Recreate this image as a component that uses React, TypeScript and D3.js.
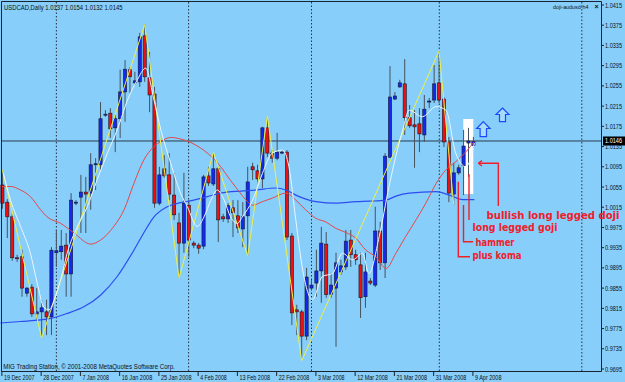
import React from "react";
import * as d3 from "d3";

const W = 625;
const H = 382;

// OHLC per daily bar (bar 0 = 19 Dec 2007, bar 96 = 9 Apr 2008)
const opens = [1.0059,1.0025,0.9996,0.9915,0.9917,0.9845,0.9857,0.9804,0.9808,0.9808,0.9798,0.9925,0.9927,0.9940,0.9883,1.0023,1.0035,1.0045,1.0043,1.0099,1.0099,1.0198,1.0201,1.0172,1.0190,1.0243,1.0287,1.0261,1.0263,1.0354,1.0271,1.0239,1.0023,1.0091,1.0079,1.0039,0.9984,0.9944,1.0019,0.9944,0.9940,0.9938,1.0077,1.0061,1.0091,0.9996,0.9992,1.0014,0.9998,0.9972,0.9998,1.0095,1.0087,1.0071,1.0172,1.0122,1.0112,1.0123,1.0124,0.9958,0.9812,0.9808,0.9760,0.9855,0.9865,0.9889,0.9942,0.9843,0.9855,0.9887,0.9897,0.9950,0.9921,0.9901,0.9838,0.9869,0.9861,0.9968,0.9905,1.0114,1.0229,1.0253,1.0259,1.0192,1.0178,1.0180,1.0158,1.0223,1.0227,1.0261,1.0229,1.0144,1.0041,1.0083,1.0097,1.0142,1.0137];
const highs = [1.0089,1.0031,1.0002,0.9921,0.9931,0.9857,0.9863,0.9855,0.9832,0.9832,0.9936,0.9970,0.9970,0.9964,1.0043,1.0029,1.0079,1.0075,1.0122,1.0112,1.0223,1.0207,1.0211,1.0198,1.0287,1.0306,1.0292,1.0283,1.0360,1.0376,1.0322,1.0253,1.0095,1.0118,1.0122,1.0083,1.0004,1.0083,1.0029,0.9948,0.9944,1.0079,1.0095,1.0124,1.0095,1.0002,1.0023,1.0029,1.0029,1.0025,1.0095,1.0103,1.0099,1.0174,1.0196,1.0128,1.0162,1.0128,1.0128,0.9964,0.9822,0.9812,0.9895,0.9871,0.9931,0.9976,0.9966,0.9885,0.9925,0.9911,0.9970,0.9970,0.9931,0.9925,0.9925,0.9875,1.0016,0.9986,1.0122,1.0294,1.0243,1.0267,1.0308,1.0217,1.0207,1.0211,1.0237,1.0231,1.0296,1.0324,1.0233,1.0154,1.0103,1.0099,1.0168,1.0172,1.0154];
const lows = [1.0012,0.9954,0.9909,0.9907,0.9838,0.9838,0.9798,0.9792,0.9756,0.9762,0.9762,0.9897,0.9911,0.9838,0.9838,1.0019,0.9964,0.9964,1.0010,1.0049,1.0089,1.0194,1.0152,1.0124,1.0152,1.0184,1.0241,1.0257,1.0253,1.0263,1.0203,1.0014,1.0019,1.0073,1.0029,0.9990,0.9875,0.9925,0.9917,0.9934,0.9923,0.9932,1.0057,1.0057,0.9946,0.9986,0.9984,0.9956,0.9964,0.9936,0.9919,1.0069,1.0049,1.0053,1.0114,1.0103,1.0108,1.0120,0.9950,0.9782,0.9762,0.9711,0.9752,0.9851,0.9838,0.9826,0.9836,0.9836,0.9739,0.9881,0.9891,0.9897,0.9901,0.9796,0.9816,0.9861,0.9857,0.9891,0.9875,1.0112,1.0227,1.0251,1.0158,1.0172,1.0093,1.0124,1.0144,1.0211,1.0221,1.0221,1.0134,1.0025,1.0019,1.0079,1.0039,1.0075,1.0132];
const closes = [1.0023,0.9996,0.9915,0.9913,0.9855,0.9855,0.9804,0.9808,0.9816,0.9798,0.9930,0.9929,0.9938,0.9883,1.0029,1.0025,1.0045,1.0041,1.0099,1.0101,1.0190,1.0199,1.0170,1.0190,1.0243,1.0288,1.0273,1.0265,1.0352,1.0273,1.0237,1.0023,1.0079,1.0077,1.0041,1.0000,0.9944,1.0023,0.9950,0.9940,0.9934,1.0075,1.0063,1.0091,0.9990,0.9992,1.0018,1.0004,0.9974,0.9996,1.0065,1.0089,1.0071,1.0172,1.0122,1.0112,1.0124,1.0124,0.9956,0.9806,0.9808,0.9760,0.9877,0.9861,0.9889,0.9944,0.9842,0.9861,0.9905,0.9899,0.9948,0.9921,0.9911,0.9836,0.9887,0.9865,0.9968,0.9905,1.0116,1.0233,1.0235,1.0261,1.0192,1.0176,1.0174,1.0160,1.0209,1.0225,1.0259,1.0227,1.0144,1.0043,1.0083,1.0093,1.0136,1.0146,1.0145];

// Moving averages: [bar index, price]
const redMA: [number, number][] = [[-0.4,1.0056],[1.7,1.0056],[3.7,1.0049],[5.7,1.0036],[7.8,1.0010],[9.1,0.9996],[11.9,0.9983],[14.6,0.9964],[18,0.9942],[20,0.9950],[22.7,0.9977],[24.8,1.0010],[26.8,1.0062],[28.8,1.0108],[30.9,1.0135],[32.3,1.0145],[34.3,1.0153],[36.3,1.0150],[38.4,1.0143],[40.4,1.0132],[42.5,1.0116],[44.5,1.0095],[46.5,1.0068],[48,1.0049],[49.5,1.0031],[51,1.0019],[53,1.0026],[55,1.0033],[57.8,1.0043],[59.8,1.0029],[61.8,1.0010],[63.9,0.9993],[65.9,0.9986],[68,0.9973],[70,0.9965],[72,0.9954],[74.1,0.9930],[76.1,0.9917],[78.2,0.9894],[80.2,0.9924],[82.2,0.9957],[84.3,0.9990],[86.3,1.0023],[88.4,1.0062],[90.4,1.0089],[92.4,1.0105],[94.5,1.0125],[96.2,1.0145]];
const blueMA: [number, number][] = [[-0.4,0.9786],[3.7,0.9789],[7.8,0.9792],[9.8,0.9795],[13.2,0.9805],[16.6,0.9818],[20,0.9841],[23.4,0.9878],[26.8,0.9930],[28.8,0.9964],[30.9,0.9996],[33.6,1.0016],[36.3,1.0024],[39,1.0029],[41.8,1.0036],[44.5,1.0043],[48.6,1.0047],[51.6,1.0049],[55.7,1.0053],[57.8,1.0049],[59.8,1.0039],[63.9,1.0026],[68,1.0023],[72,1.0026],[74.8,1.0027],[78.2,1.0029],[80.2,1.0037],[82.9,1.0043],[88.4,1.0046],[91.1,1.0039],[93.8,1.0030],[96.2,1.0030]];
const whiteMA: [number, number][] = [[0.2,1.0082],[1.65,1.0029],[3.7,0.9977],[5.7,0.9924],[7.1,0.9865],[8.4,0.9818],[9.5,0.9812],[10.8,0.9838],[12.2,0.9884],[13.2,0.9924],[15.3,0.9977],[17.3,1.0016],[19.3,1.0069],[21.4,1.0122],[23.4,1.0168],[25.5,1.0227],[27.5,1.0267],[29.2,1.0290],[30.9,1.0227],[32.3,1.0168],[34.3,1.0102],[36.3,1.0043],[37.7,1.0016],[39.7,0.9977],[41.1,0.9996],[42.5,1.0029],[43.8,1.0049],[45.2,1.0029],[46.5,0.9996],[47.9,0.9983],[48.9,0.9996],[51.0,1.0029],[53.0,1.0082],[55.0,1.0122],[57.1,1.0128],[58.4,1.0095],[59.8,0.9990],[61.2,0.9891],[63.2,0.9832],[65.2,0.9878],[67.3,0.9884],[69.3,0.9924],[71.4,0.9911],[73.4,0.9924],[74.7,0.9884],[76.8,0.9957],[78.8,1.0056],[81.6,1.0168],[82.9,1.0207],[85.6,1.0194],[88.4,1.0214],[90.4,1.0207],[92.4,1.0122],[94.5,1.0095],[96.2,1.0142]];

// ZigZag pivots: [bar index, 1 = high / 0 = low]
const zigzag: [number, number][] = [[0,1],[8,0],[29,1],[36,0],[43,1],[50,0],[54,1],[61,0],[89,1],[92,0]];

// Axis labels
const yTicks = [1.0415,1.0375,1.0335,1.0295,1.0255,1.0215,1.0175,1.0135,1.0095,1.0055,1.0015,0.9975,0.9935,0.9895,0.9855,0.9815,0.9775,0.9735,0.9695];
const xTickBars = [0,8,16,24,32,40,48,56,64,72,80,88,96];
const xTickLabels = ["19 Dec 2007","28 Dec 2007","7 Jan 2008","16 Jan 2008","25 Jan 2008","4 Feb 2008","13 Feb 2008","22 Feb 2008","3 Mar 2008","12 Mar 2008","21 Mar 2008","31 Mar 2008","9 Apr 2008"];
const separatorBars = [11, 37.95, 63, 89.05, 118.1];
const currentPrice = 1.0146;

const x = d3.scaleLinear().domain([0, 96]).range([2.4, 473.4]);
const y = d3.scaleLinear().domain([0.9695, 1.0415]).range([369, 5]);

const BG = "#87CEFA";
const AX = "#1a2330";

function T(props: any) {
  const { x: tx, y: ty, s, len, size = 7, fill = "#111", family = "'Liberation Sans', Arial, sans-serif", weight = 400, anchor = "start" } = props;
  return (
    <text x={tx} y={ty} fontSize={size} fill={fill} fontFamily={family} fontWeight={weight}
      textAnchor={anchor} textLength={len} lengthAdjust="spacingAndGlyphs">{s}</text>
  );
}

export default function App() {
  const line = d3.line<[number, number]>().x(d => x(d[0])).y(d => y(d[1])).curve(d3.curveMonotoneX);
  const zz = d3.line<[number, number]>().x(d => x(d[0])).y(d => y(d[1] ? highs[d[0]] : lows[d[0]]));
  const xLabelLens = xTickLabels.map(s => s.length >= 11 ? 30.6 : 26.6);
  const annoFont = "'DejaVu Sans', Verdana, sans-serif";
  const red = "#f0202a";
  return (
    <svg width={W} height={H} style={{ position: "fixed", left: 0, top: 0, display: "block" }}>
      <rect x={0} y={0} width={W} height={H} fill={BG} />
      {/* period separators */}
      {separatorBars.map((b, k) => (
        <line key={k} x1={x(b)} x2={x(b)} y1={2} y2={371.5} stroke="#2a2f3a" strokeWidth={1} strokeDasharray="1.5,2" />
      ))}
      {/* highlight box */}
      <rect x={463.3} y={119} width={10} height={75} fill="#ffffff" />
      {/* current price line */}
      <line x1={1.5} x2={601.5} y1={y(currentPrice)} y2={y(currentPrice)} stroke="#2a3a48" strokeWidth={1} />
      {/* candles */}
      {opens.map((o, i) => {
        const c = closes[i];
        const up = c >= o;
        const yt = y(Math.max(o, c));
        const yb = y(Math.min(o, c));
        return (
          <g key={i}>
            <line x1={x(i)} x2={x(i)} y1={y(highs[i])} y2={y(lows[i])} stroke="#46525e" strokeWidth={1} />
            <rect x={x(i) - 1.6} y={yt} width={3.2} height={Math.max(1, yb - yt)}
              fill={up ? "#1428f0" : "#ee1010"} stroke="#141a2a" strokeWidth={0.6} />
          </g>
        );
      })}
      {/* indicators */}
      <path d={line(blueMA) || ""} fill="none" stroke="#2c4ef0" strokeWidth={1.2} />
      <path d={line(redMA) || ""} fill="none" stroke="#e64848" strokeWidth={1} />
      <path d={zz(zigzag) || ""} fill="none" stroke="#eef04a" strokeWidth={1} />
      <path d={line(whiteMA) || ""} fill="none" stroke="#eef6ff" strokeWidth={1} />
      {/* frame */}
      <line x1={1.5} x2={1.5} y1={1.5} y2={371.5} stroke={AX} />
      <line x1={601.5} x2={601.5} y1={1.5} y2={371.5} stroke={AX} />
      <line x1={1.5} x2={601.5} y1={371.5} y2={371.5} stroke={AX} />
      <line x1={1.5} x2={601.5} y1={1.5} y2={1.5} stroke={AX} />
      {/* y axis */}
      {yTicks.map((v, k) => (
        <g key={k}>
          <line x1={601.5} x2={604} y1={y(v)} y2={y(v)} stroke={AX} />
          <T x={605} y={y(v) + 2.5} s={v.toFixed(4)} len={17} />
        </g>
      ))}
      <rect x={603} y={y(currentPrice) - 4.5} width={22} height={9} fill="#000" />
      <T x={605} y={y(currentPrice) + 2.5} s={currentPrice.toFixed(4)} len={17} fill="#fff" />
      {/* x axis */}
      {xTickBars.map((b, k) => (
        <g key={k}>
          <line x1={x(b) - 0.5} x2={x(b) - 0.5} y1={371.5} y2={376} stroke={AX} />
          <T x={x(b) + 1.5} y={380} s={xTickLabels[k]} len={xLabelLens[k]} />
        </g>
      ))}
      {/* texts */}
      <T x={4} y={9.5} s="USDCAD,Daily  1.0137 1.0154 1.0132 1.0145" len={118.5} />
      <T x={553} y={9} s="doji-audusd-h4" len={35.5} size={5.6} />
      <T x={594.5} y={9} s="×" size={7} weight={700} />
      <T x={3.3} y={368.5} s="MIG Trading Station, © 2001-2008 MetaQuotes Software Corp." len={171.5} />
      {/* blue arrows */}
      <path d="M483.3,121.7 L490,128.5 L486.5,128.5 L486.5,136.7 L480.1,136.7 L480.1,128.5 L476.7,128.5 Z" fill="#a8dcff" stroke="#1a48ff" strokeWidth={1.2} />
      <path d="M502.5,108 L509,114.5 L505.5,114.5 L505.5,121.7 L499.5,121.7 L499.5,114.5 L496,114.5 Z" fill="#a8dcff" stroke="#1a48ff" strokeWidth={1.2} />
      {/* annotation connectors */}
      <g stroke={red} strokeWidth={1.4} fill="none">
        <path d="M498.3,206 L498.3,163.3 L478.5,163.3" />
        <path d="M478.3,163.3 L482,160.6 M478.3,163.3 L482,166" />
        <path d="M469,174 L469,220" />
        <path d="M463.5,205 L463.5,241.7 L473,241.7" />
        <path d="M458.3,181.7 L458.3,256.7 L470,256.7" />
      </g>
      <T x={486.5} y={219} s="bullish long legged doji" len={133} size={10} weight={700} fill={red} family={annoFont} />
      <T x={472.5} y={231} s="long legged goji" len={85} size={10} weight={700} fill={red} family={annoFont} />
      <T x={475.5} y={245.5} s="hammer" len={39} size={10} weight={700} fill={red} family={annoFont} />
      <T x={472.5} y={259} s="plus koma" len={49} size={10} weight={700} fill={red} family={annoFont} />
    </svg>
  );
}
